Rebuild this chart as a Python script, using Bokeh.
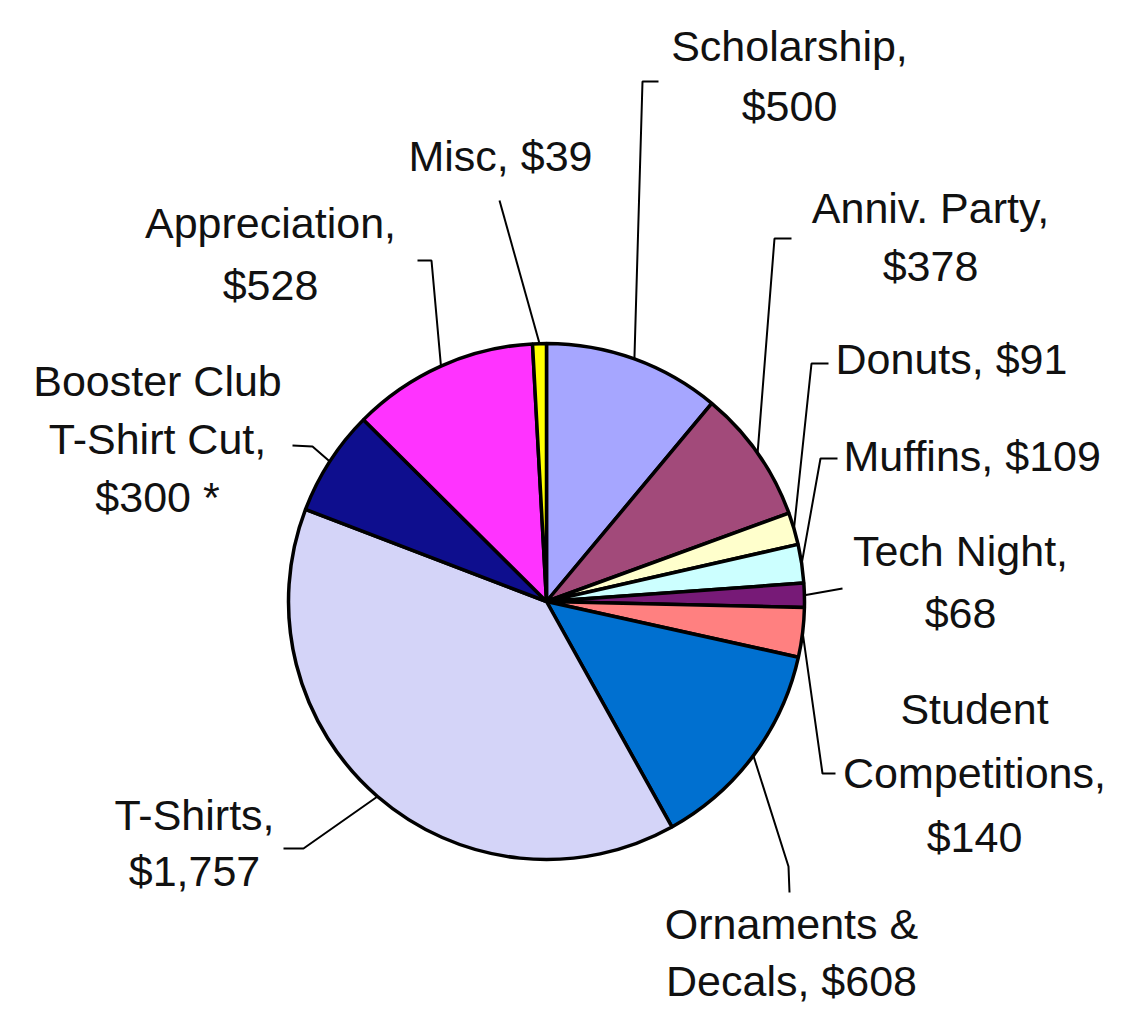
import math
from bokeh.plotting import figure
from bokeh.models import Range1d, ColumnDataSource
from bokeh.core.properties import value
from bokeh.embed import file_html
from bokeh.resources import INLINE

# ---------------- data ----------------
categories = ["Scholarship", "Anniv. Party", "Donuts", "Muffins", "Tech Night",
              "Student Competitions", "Ornaments & Decals", "T-Shirts",
              "Booster Club T-Shirt Cut", "Appreciation", "Misc"]
amounts = [500, 378, 91, 109, 68, 140, 608, 1757, 300, 528, 39]
label_texts = ["Scholarship,\n$500", "Anniv. Party,\n$378", "Donuts, $91",
               "Muffins, $109", "Tech Night,\n$68", "Student\nCompetitions,\n$140",
               "Ornaments &\nDecals, $608", "T-Shirts,\n$1,757",
               "Booster Club\nT-Shirt Cut,\n$300 *", "Appreciation,\n$528", "Misc, $39"]
colors = ["#A6A6FF", "#A24A7A", "#FFFFCC", "#CCFFFF", "#771A77", "#FF8080",
          "#0070D0", "#D4D4F8", "#0E0E8E", "#FF33FF", "#FFFF00"]

# ---------------- layout (picture pixel coordinates) ----------------
W, H = 1107, 1009
CX, CY, R = 546, 601, 258
FONT = "Liberation Sans"
FONT_SIZE = "43px"
# label block centre (or left edge for "left"), alignment, line gap
label_pos = [(789, 75, "center", 60), (930, 236, "center", 58), (835, 358, "left", 60),
             (843, 455, "left", 60), (960, 581, "center", 62), (974, 772, "center", 64),
             (791, 952, "center", 57), (194, 842, "center", 56), (157, 438, "center", 58),
             (270, 253, "center", 62), (500, 155, "center", 60)]
# leader line points after the slice edge point
leader_pts = [[(642, 81), (658, 81)], [(774, 238), (791, 238)],
              [(811, 363), (828, 363)], [(820, 458), (837, 458)],
              [(842, 588)], [(822, 773), (835, 773)],
              [(788, 866), (789, 892)], [(303, 848), (283, 848)],
              [(312, 446), (292, 445)], [(431, 260), (417, 260)],
              [(499, 200)]]

p = figure(width=W, height=H, output_backend="svg", toolbar_location=None,
           x_range=Range1d(0, W), y_range=Range1d(-H, 0),
           min_border=0, outline_line_color=None)
p.axis.visible = False
p.grid.visible = False
p.background_fill_color = "white"
p.border_fill_color = "white"

# wedges
total = sum(amounts)
starts, ends, mids = [], [], []
cum = 0
for a in amounts:
    s = math.pi / 2 - 2 * math.pi * cum / total
    cum += a
    e = math.pi / 2 - 2 * math.pi * cum / total
    starts.append(s)
    ends.append(e)
    mids.append((s + e) / 2)

src = ColumnDataSource(dict(cat=categories, amount=amounts, start=starts,
                            end=ends, color=colors))
p.wedge(x=CX, y=-CY, radius=R, start_angle="start", end_angle="end",
        direction="clock", fill_color="color", line_color="black",
        line_width=3.5, source=src)

# leader lines
xs, ys = [], []
for m, pts in zip(mids, leader_pts):
    ex = CX + R * math.cos(m)
    ey = -CY + R * math.sin(m)
    xs.append([ex] + [pt[0] for pt in pts])
    ys.append([ey] + [-pt[1] for pt in pts])
p.multi_line(xs=xs, ys=ys, line_color="black", line_width=2)

# labels
groups = {"center": dict(x=[], y=[], t=[]), "left": dict(x=[], y=[], t=[])}
for txt, (lx, ly, al, gap) in zip(label_texts, label_pos):
    lines = txt.split("\n")
    n = len(lines)
    for i, ln in enumerate(lines):
        groups[al]["x"].append(lx)
        groups[al]["y"].append(-(ly + (i - (n - 1) / 2) * gap))
        groups[al]["t"].append(ln)

for al, g in groups.items():
    p.text(x=g["x"], y=g["y"], text=g["t"], text_align=al,
           text_baseline="middle", text_font=value(FONT),
           text_font_size=FONT_SIZE, text_color="#111111")

open("out.html", "w").write(file_html(p, INLINE))
